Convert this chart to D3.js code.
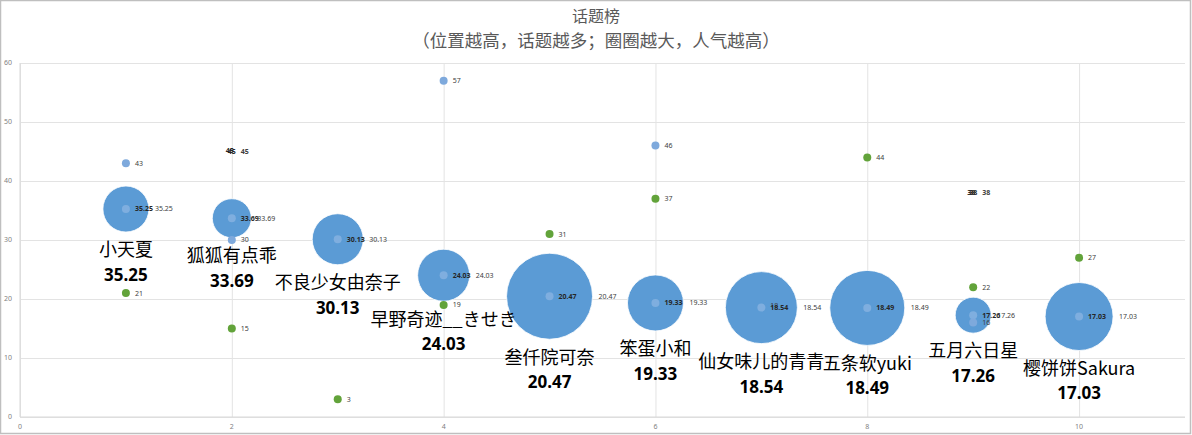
<!DOCTYPE html>
<html>
<head>
<meta charset="utf-8">
<script src="https://cdn.jsdelivr.net/npm/d3@7/dist/d3.min.js"></script>
<style>
  html, body { margin: 0; padding: 0; background: #fff; }
  svg { display: block; font-family: "Noto Sans", "Noto Sans CJK SC", sans-serif; }
</style>
</head>
<body>
<svg id="chart" width="1192" height="435"></svg>
<script>
// ── Data ──────────────────────────────────────────────────────────────────
const names      = ['小天夏', '狐狐有点乖', '不良少女由奈子', '早野奇迹__きせき', '叁仟院可奈',
                    '笨蛋小和', '仙女味儿的青青', '五条软yuki', '五月六日星', '樱饼饼Sakura'];
const rankX      = [1, 2, 3, 4, 5, 6, 7, 8, 9, 10];
const topicVals  = [35.25, 33.69, 30.13, 24.03, 20.47, 19.33, 18.54, 18.49, 17.26, 17.03];
const popularity = [28.6, 20.6, 35.2, 36.6, 100, 42.4, 70.1, 76.1, 17.5, 62.5];

// small blue points
const blueX = [1, 2, 4, 6, 7, 9];
const blueY = [43, 30, 57, 46, 18, 16];
// green points
const greenX = [1, 2, 3, 4, 5, 6, 8, 9, 10];
const greenY = [21, 15, 3, 19, 31, 37, 44, 22, 27];
// overlapped labels with no visible marker
const ghostX = [2, 9];
const ghostY = [45, 38];

const xTicks = [0, 2, 4, 6, 8, 10];
const yTicks = [0, 10, 20, 30, 40, 50, 60];

// ── Layout ────────────────────────────────────────────────────────────────
const W = 1192, H = 435;
const M = { left: 20, right: 7, top: 63, bottom: 18 };
const svg = d3.select('#chart');

svg.append('rect').attr('x', 0.5).attr('y', 0.5).attr('width', W - 2).attr('height', H - 2)
  .attr('fill', '#fff').attr('stroke', '#bfbfbf').attr('stroke-width', 1.5);

const x = d3.scaleLinear().domain([0, 11]).range([M.left, W - M.right]);
const y = d3.scaleLinear().domain([0, 60]).range([H - M.bottom, M.top]);
const r = d3.scaleSqrt().domain([0, 100]).range([0, 43]);

// grid
svg.append('g').attr('transform', `translate(${M.left},0)`)
  .call(d3.axisLeft(y).tickValues(yTicks).tickSize(-(x(11) - x(0))).tickFormat(''))
  .call(g => g.select('.domain').remove())
  .call(g => g.selectAll('line').attr('stroke', '#e3e3e3'));
svg.append('g').attr('transform', `translate(0,${y(0)})`)
  .call(d3.axisBottom(x).tickValues(xTicks).tickSize(-(y(0) - y(60))).tickFormat(''))
  .call(g => g.select('.domain').remove())
  .call(g => g.selectAll('line').attr('stroke', '#e3e3e3'));

// axis lines
svg.append('line').attr('x1', x(0)).attr('x2', x(11)).attr('y1', y(0)).attr('y2', y(0)).attr('stroke', '#d9d9d9');
svg.append('line').attr('x1', x(0)).attr('x2', x(0)).attr('y1', y(0)).attr('y2', y(60)).attr('stroke', '#d9d9d9');

// tick labels
svg.append('g').selectAll('text').data(yTicks).join('text')
  .attr('x', x(0) - 8).attr('y', d => y(d)).attr('dy', '0.35em')
  .attr('text-anchor', 'end').attr('font-size', 7).attr('fill', '#7f7f7f').text(d => d);
svg.append('g').selectAll('text').data(xTicks).join('text')
  .attr('x', d => x(d)).attr('y', y(0) + 10).attr('dy', '0.35em')
  .attr('text-anchor', 'middle').attr('font-size', 7).attr('fill', '#7f7f7f').text(d => d);

// title
svg.append('text').attr('x', W / 2).attr('y', 16).attr('dy', '0.35em').attr('text-anchor', 'middle')
  .attr('font-family', '"Noto Sans CJK SC", sans-serif').attr('font-size', 16).attr('fill', '#595959')
  .text('话题榜');
svg.append('text').attr('x', W / 2).attr('y', 41).attr('dy', '0.35em').attr('text-anchor', 'middle')
  .attr('font-family', '"Noto Sans CJK SC", sans-serif').attr('font-size', 17.5).attr('fill', '#595959')
  .text('（位置越高，话题越多；圈圈越大，人气越高）');

// ── Marks ─────────────────────────────────────────────────────────────────
const bubbles = rankX.map((d, i) => ({ x: d, y: topicVals[i], s: popularity[i], name: names[i] }));

// bubbles
svg.append('g').selectAll('circle').data(bubbles).join('circle')
  .attr('cx', d => x(d.x)).attr('cy', d => y(d.y)).attr('r', d => r(d.s))
  .attr('fill', '#5b9bd5').attr('stroke', '#fff').attr('stroke-width', 0.8);

// centre dots
svg.append('g').selectAll('circle').data(bubbles).join('circle')
  .attr('cx', d => x(d.x)).attr('cy', d => y(d.y)).attr('r', 4)
  .attr('fill', '#8fb6e3').attr('opacity', 0.7);

// blue points
const bluePts = blueX.map((d, i) => ({ x: d, y: blueY[i] }));
svg.append('g').selectAll('circle').data(bluePts.filter(d => d.x !== 7)).join('circle')
  .attr('cx', d => x(d.x)).attr('cy', d => y(d.y)).attr('r', 4).attr('fill', '#7ea9dc');
svg.append('g').selectAll('text').data(bluePts).join('text')
  .attr('x', d => x(d.x) + 9).attr('y', d => y(d.y) - (d.x === 7 ? 5 : 0)).attr('dy', '0.35em')
  .attr('font-size', 7).attr('fill', '#404040').text(d => d.y);

// green points
const greenPts = greenX.map((d, i) => ({ x: d, y: greenY[i] }));
svg.append('g').selectAll('circle').data(greenPts).join('circle')
  .attr('cx', d => x(d.x)).attr('cy', d => y(d.y)).attr('r', 4).attr('fill', '#62a33a');
svg.append('g').selectAll('text').data(greenPts).join('text')
  .attr('x', d => x(d.x) + 9).attr('y', d => y(d.y)).attr('dy', '0.35em')
  .attr('font-size', 7).attr('fill', '#404040').text(d => d.y);

// ghost labels (overlapped)
const ghostPts = ghostX.map((d, i) => ({ x: d, y: ghostY[i] }));
const gg = svg.append('g');
[-2, 0].forEach(off => {
  gg.append('g').selectAll('text').data(ghostPts).join('text')
    .attr('x', d => x(d.x) + off).attr('y', d => y(d.y) + (off ? -0.5 : 0)).attr('dy', '0.35em')
    .attr('text-anchor', 'middle').attr('font-size', 7).attr('font-weight', 'bold')
    .attr('fill', '#262626').text(d => d.y);
});
gg.append('g').selectAll('text').data(ghostPts).join('text')
  .attr('x', d => x(d.x) + 9).attr('y', d => y(d.y)).attr('dy', '0.35em')
  .attr('font-size', 7).attr('font-weight', 'bold').attr('fill', '#404040').text(d => d.y);

// bubble value labels
svg.append('g').selectAll('text').data(bubbles).join('text')
  .attr('x', d => x(d.x) + 9).attr('y', d => y(d.y)).attr('dy', '0.35em')
  .attr('font-size', 7).attr('font-weight', 'bold').attr('fill', '#262626').text(d => d.y.toFixed(2));
svg.append('g').selectAll('text').data(bubbles).join('text')
  .attr('x', d => x(d.x) + r(d.s) + 6).attr('y', d => y(d.y)).attr('dy', '0.35em')
  .attr('font-size', 7).attr('fill', '#404040').text(d => d.y.toFixed(2));

// names + values under bubbles
const lab = svg.append('g').selectAll('g').data(bubbles).join('g');
lab.append('text')
  .attr('x', d => x(d.x)).attr('y', d => y(d.y) + r(d.s) + 18).attr('dy', '0.35em')
  .attr('text-anchor', 'middle').attr('font-family', '"Noto Sans CJK SC", sans-serif')
  .attr('font-size', 18).attr('fill', '#000').text(d => d.name);
lab.append('text')
  .attr('x', d => x(d.x)).attr('y', d => y(d.y) + r(d.s) + 43).attr('dy', '0.35em')
  .attr('text-anchor', 'middle').attr('font-size', 17).attr('font-weight', 'bold')
  .attr('fill', '#000').text(d => d.y.toFixed(2));
</script>
</body>
</html>
